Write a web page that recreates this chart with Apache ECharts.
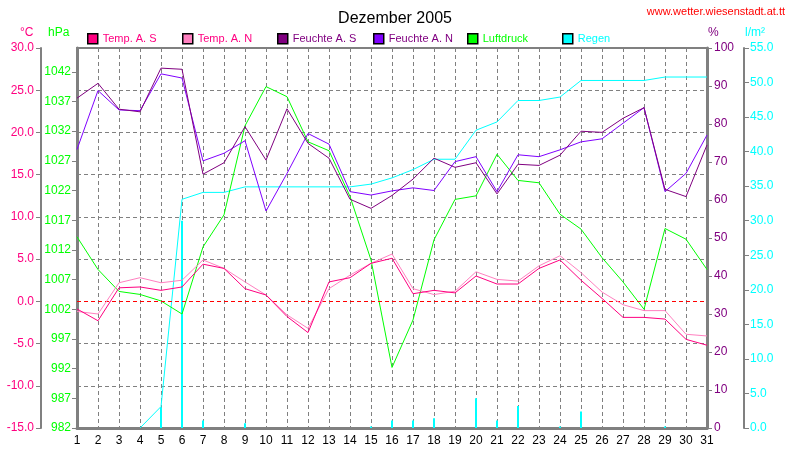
<!DOCTYPE html>
<html>
<head>
<meta charset="utf-8">
<script src="https://cdn.jsdelivr.net/npm/echarts@6/dist/echarts.min.js"></script>
<style>
html,body{margin:0;padding:0;background:#fff;}
#chart{width:790px;height:460px;}
</style>
</head>
<body>
<div id="chart"></div>
<script>
var days = ['1','2','3','4','5','6','7','8','9','10','11','12','13','14','15','16','17','18','19','20','21','22','23','24','25','26','27','28','29','30','31'];
var tempS = [-0.9,-2.3,1.6,1.7,1.3,1.7,4.4,3.9,1.5,0.75,-1.8,-3.7,2.3,2.8,4.5,5.1,0.9,1.3,1.0,3.0,2.05,2.05,3.9,4.9,2.5,0.35,-1.9,-1.9,-2.1,-4.5,-5.2];
var tempN = [-1.2,-1.5,2.2,2.8,2.2,2.5,4.9,3.9,2.3,0.75,-1.6,-3.2,1.5,3.1,4.5,5.6,1.5,0.8,1.2,3.5,2.6,2.4,4.2,5.4,3.4,1.1,-0.4,-1.1,-1.1,-3.9,-4.1];
var feuchteS = [86.8,90.7,83.9,83.2,94.7,94.4,66.8,69.8,79.3,70.5,84.0,74.9,71.0,60.2,57.8,61.2,65.5,71.0,68.6,69.8,61.6,69.4,69.1,71.8,78.1,77.8,81.5,84.3,62.8,60.9,74.5];
var feuchteN = [73.3,88.8,83.7,83.5,93.2,92.1,70.3,72.3,75.6,57.1,67.0,77.5,74.7,62.2,61.3,62.4,63.2,62.5,70.1,71.4,62.2,71.9,71.4,73.2,75.3,76.1,80.2,84.3,62.2,67.0,77.1];
var luftdruck = [1014.2,1008.7,1005.0,1004.5,1003.4,1001.2,1012.5,1017.9,1032.9,1039.5,1037.8,1030.2,1028.7,1021.0,1010.3,992.2,1000.2,1013.7,1020.5,1021.1,1028.1,1023.7,1023.3,1018.0,1015.5,1010.7,1006.6,1002.0,1015.6,1013.8,1008.7];
var regenSumme = [null,null,null,0,3.1,33.1,34.1,34.1,34.9,34.9,34.9,34.9,34.9,34.9,35.3,36.2,37.4,38.9,38.9,43.1,44.3,47.4,47.4,47.9,50.3,50.3,50.3,50.3,50.8,50.8,50.8];
var regenTag = [null,null,null,null,3.0,30.0,1.1,null,0.7,null,null,null,null,null,0.2,1.1,1.1,1.4,null,4.3,1.1,3.2,null,0.2,2.4,null,null,null,0.2,null,null];

var FONT = '"Liberation Sans", Arial, sans-serif';
var C_TS = '#ff0080', C_TN = '#ff80c0', C_FS = '#800080', C_FN = '#8000ff', C_LD = '#00ff00', C_RG = '#00ffff';
var GRAY = '#808080';

function legendItem(name, left, boxColor, textColor) {
  return {
    data: [name], left: left, top: 33, orient: 'horizontal',
    icon: 'rect', itemWidth: 10, itemHeight: 10, itemGap: 0,
    padding: 0, selectedMode: false,
    itemStyle: { color: boxColor, borderColor: '#000', borderWidth: 1.5 },
    textStyle: { color: textColor, fontFamily: FONT, fontSize: 11 }
  };
}

var chart = echarts.init(document.getElementById('chart'));
chart.setOption({
  backgroundColor: '#fff',
  animation: false,
  title: {
    text: 'Dezember 2005', left: 'center', top: 6,
    textStyle: { fontFamily: FONT, fontSize: 16, fontWeight: 'normal', color: '#000' }
  },
  graphic: [
    { type: 'text', right: 5, top: 6, style: { text: 'www.wetter.wiesenstadt.at.tt', fill: '#ff0000', font: '11px ' + FONT } },
    { type: 'text', left: 20, top: 27, style: { text: '°C', fill: C_TS, font: '12px ' + FONT } },
    { type: 'text', left: 48, top: 27, style: { text: 'hPa', fill: C_LD, font: '12px ' + FONT } },
    { type: 'text', left: 708, top: 27, style: { text: '%', fill: C_FS, font: '12px ' + FONT } },
    { type: 'text', left: 745, top: 27, style: { text: 'l/m²', fill: C_RG, font: '12px ' + FONT } }
  ],
  legend: [
    legendItem('Temp. A. S', 87, C_TS, C_TS),
    legendItem('Temp. A. N', 182, C_TN, C_TS),
    legendItem('Feuchte A. S', 277, C_FS, C_FS),
    legendItem('Feuchte A. N', 373, C_FN, C_FS),
    legendItem('Luftdruck', 467, C_LD, C_LD),
    legendItem('Regen', 562, C_RG, C_RG)
  ],
  grid: {
    left: 77, right: 83, top: 48, bottom: 32,
    show: true, borderColor: GRAY, borderWidth: 2, backgroundColor: 'transparent'
  },
  xAxis: {
    type: 'category', data: days, boundaryGap: false,
    axisLine: { show: true, onZero: false, lineStyle: { color: GRAY, width: 3 } },
    axisTick: { show: false },
    axisLabel: { color: '#000', fontFamily: FONT, fontSize: 12, margin: 7, interval: 0 },
    splitLine: { show: true, lineStyle: { color: GRAY, type: [4, 3], width: 1 } }
  },
  yAxis: [
    {
      type: 'value', min: -15, max: 30, interval: 5, position: 'left', offset: 36,
      axisLine: { show: true, onZero: false, lineStyle: { color: GRAY, width: 2 } },
      axisTick: { show: true, length: 5, lineStyle: { color: GRAY } },
      axisLabel: { color: C_TS, fontFamily: FONT, fontSize: 12, margin: 7, formatter: function (v) { return v.toFixed(1); } },
      splitLine: { show: true, lineStyle: { color: GRAY, type: [4, 3], width: 1 } }
    },
    {
      type: 'value', min: 982, max: 1046, interval: 5, position: 'left', offset: 0,
      axisLine: { show: true, onZero: false, lineStyle: { color: GRAY, width: 3 } },
      axisTick: { show: true, length: 5, lineStyle: { color: GRAY } },
      axisLabel: { color: C_LD, fontFamily: FONT, fontSize: 12, margin: 6, showMaxLabel: false, formatter: function (v) { return String(v); } },
      splitLine: { show: false }
    },
    {
      type: 'value', min: 0, max: 100, interval: 10, position: 'right', offset: 0,
      axisLine: { show: true, onZero: false, lineStyle: { color: GRAY, width: 3 } },
      axisTick: { show: true, length: 5, lineStyle: { color: GRAY } },
      axisLabel: { color: C_FS, fontFamily: FONT, fontSize: 12, margin: 7 },
      splitLine: { show: false }
    },
    {
      type: 'value', min: 0, max: 55, interval: 5, position: 'right', offset: 37,
      axisLine: { show: true, onZero: false, lineStyle: { color: GRAY, width: 2 } },
      axisTick: { show: true, length: 5, lineStyle: { color: GRAY } },
      axisLabel: { color: C_RG, fontFamily: FONT, fontSize: 12, margin: 6, formatter: function (v) { return v.toFixed(1); } },
      splitLine: { show: false }
    }
  ],
  series: [
    {
      name: 'Regen', type: 'bar', yAxisIndex: 3, data: regenTag, barWidth: 2,
      itemStyle: { color: C_RG }, z: 2
    },
    {
      name: 'Regen', type: 'line', yAxisIndex: 3, data: regenSumme, showSymbol: false,
      lineStyle: { color: C_RG, width: 1 }, itemStyle: { color: C_RG }, z: 3
    },
    {
      name: 'Luftdruck', type: 'line', yAxisIndex: 1, data: luftdruck, showSymbol: false,
      lineStyle: { color: C_LD, width: 1 }, itemStyle: { color: C_LD }, z: 4
    },
    {
      name: 'Feuchte A. N', type: 'line', yAxisIndex: 2, data: feuchteN, showSymbol: false,
      lineStyle: { color: C_FN, width: 1 }, itemStyle: { color: C_FN }, z: 5
    },
    {
      name: 'Feuchte A. S', type: 'line', yAxisIndex: 2, data: feuchteS, showSymbol: false,
      lineStyle: { color: C_FS, width: 1 }, itemStyle: { color: C_FS }, z: 6
    },
    {
      name: 'Temp. A. N', type: 'line', yAxisIndex: 0, data: tempN, showSymbol: false,
      lineStyle: { color: C_TN, width: 1 }, itemStyle: { color: C_TN }, z: 7
    },
    {
      name: 'Temp. A. S', type: 'line', yAxisIndex: 0, data: tempS, showSymbol: false,
      lineStyle: { color: C_TS, width: 1 }, itemStyle: { color: C_TS }, z: 8,
      markLine: {
        silent: true, symbol: 'none', label: { show: false },
        lineStyle: { color: '#ff0000', type: [4, 3], width: 1 },
        data: [{ yAxis: 0 }]
      }
    }
  ]
});
</script>
</body>
</html>
